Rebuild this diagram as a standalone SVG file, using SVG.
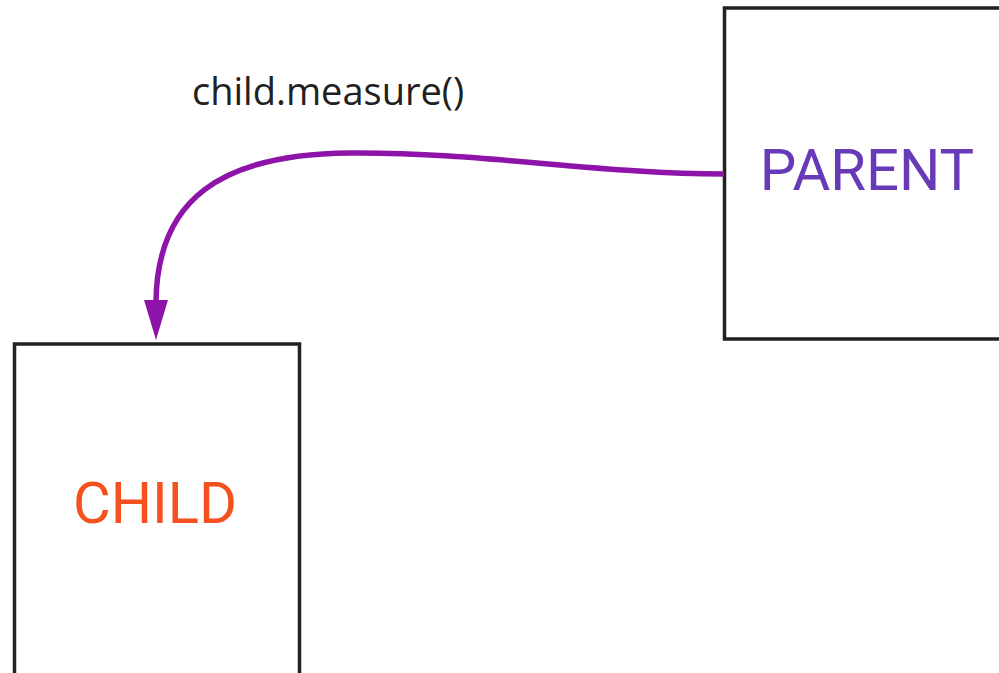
<svg xmlns="http://www.w3.org/2000/svg" width="999" height="673" viewBox="0 0 999 673">
  <style>
    .box { fill: #ffffff; stroke: #212121; stroke-width: 3.5; }
    .name { font-family: Roboto, "Liberation Sans", sans-serif; font-size: 58px; text-anchor: middle; }
    .label { font-family: "Open Sans", "Noto Sans", sans-serif; font-size: 38px; fill: #212121; }
    .edge { fill: none; stroke: #8e13a8; stroke-width: 5.5; }
    .head { fill: #8e13a8; }
  </style>
  <rect width="999" height="673" fill="#ffffff"/>

  <g id="parent">
    <rect class="box" x="724.5" y="8" width="290" height="331"/>
    <text class="name" x="867" y="190" fill="#673ab7">PARENT</text>
  </g>

  <g id="child">
    <rect class="box" x="14.5" y="344" width="285" height="340"/>
    <text class="name" x="155" y="523" fill="#f4511e">CHILD</text>
  </g>

  <g id="connectors">
    <path class="edge" d="M724,174 C600,174 480,152 350,153 C220,154 157,200 156,302"/>
    <path class="head" d="M144,300 L168,300 L156,340 Z"/>
    <text class="label" x="192" y="105">child.measure()</text>
  </g>
</svg>
